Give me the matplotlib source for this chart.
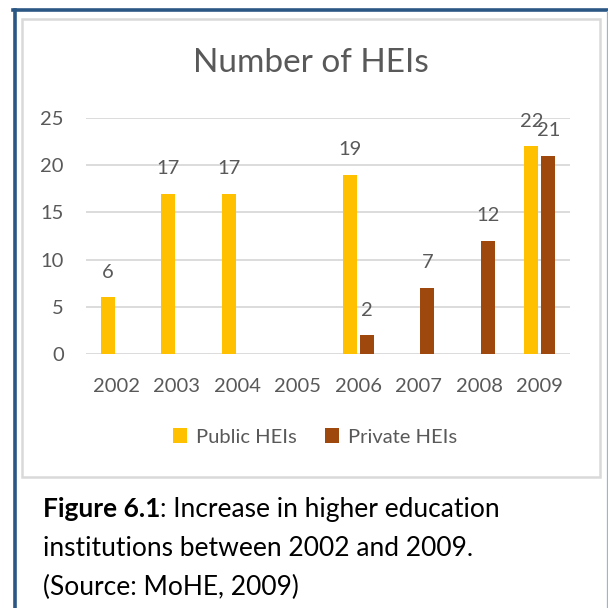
import matplotlib.pyplot as plt
from matplotlib.patches import Rectangle
from matplotlib.lines import Line2D

plt.rcParams['font.family'] = ['Lato', 'DejaVu Sans']

# Number of higher education institutions per year
years = ['2002', '2003', '2004', '2005', '2006', '2007', '2008', '2009']
public_heis = [6, 17, 17, 0, 19, 0, 0, 22]
private_heis = [0, 0, 0, 0, 2, 7, 12, 21]
series_names = ['Public HEIs', 'Private HEIs']

caption_head = 'Figure 6.1'
caption_lines = [': Increase in higher education',
                 'institutions between 2002 and 2009.',
                 '(Source: MoHE, 2009)']

public_color = '#FFC000'
private_color = '#9E480E'
text_gray = '#595959'
grid_gray = '#D9D9D9'

W = 608
fig = plt.figure(figsize=(6.08, 6.08), dpi=100)

def fx(px):
    return px / W

def fy(px):
    return 1 - px / W

# outer frame (blue) and chart area frame (light gray)
fig.add_artist(Line2D([fx(14.5), fx(14.5)], [fy(9.5), 0], color='#2B5784', lw=2.6))
fig.add_artist(Line2D([fx(13), 1], [fy(9.5), fy(9.5)], color='#2B5784', lw=2.6))
fig.add_artist(Line2D([fx(607), fx(607)], [fy(11), 0], color='#9DB3CE', lw=0.9))
fig.add_artist(Rectangle((fx(22), fy(477)), fx(600 - 22), (477 - 19) / W,
                         fill=False, edgecolor=grid_gray, lw=1.8))

ax = fig.add_axes([fx(86), fy(354), fx(570 - 86), (354 - 118) / W])
x = list(range(len(years)))
bw = 0.225
off = 0.14
pub_x = [i - off for i in x]
priv_x = [i + off for i in x]
ax.bar(pub_x, public_heis, width=bw, color=public_color, zorder=3, label=series_names[0])
ax.bar(priv_x, private_heis, width=bw, color=private_color, zorder=3, label=series_names[1])

# value labels only where there is a bar
for xs, vals in ((pub_x, public_heis), (priv_x, private_heis)):
    for xi, v in zip(xs, vals):
        if v > 0:
            ax.annotate(str(v), (xi, v), xytext=(0, 18), textcoords='offset points',
                        ha='center', va='center', fontsize=14.5, color=text_gray, zorder=4)

ax.set_xlim(-0.5, 7.5)
ax.set_ylim(0, 25)
ax.set_yticks([0, 5, 10, 15, 20, 25])
ax.set_xticks(x)
ax.set_xticklabels(years)
ax.yaxis.grid(True, color=grid_gray, lw=1.3, zorder=0)
for s in ax.spines.values():
    s.set_visible(False)
ax.tick_params(length=0, labelsize=14.5, colors=text_gray)
ax.tick_params(axis='y', pad=16)
ax.tick_params(axis='x', pad=17)
ax.set_facecolor('none')

fig.text(fx(311), fy(63), 'Number of HEIs', ha='center', va='center',
         fontsize=24, color=text_gray)

fig.legend(loc='center', bbox_to_anchor=(fx(315), fy(437)), ncol=2, frameon=False,
           fontsize=14.5, labelcolor=text_gray, handlelength=0.7, handleheight=0.7,
           handletextpad=0.45, columnspacing=1.4)

# caption under the chart: bold head, then the rest in regular weight
cap_size = 19
head = fig.text(fx(43), fy(517), caption_head, fontsize=cap_size, fontweight='bold',
                va='baseline', color='black')
renderer = fig.canvas.get_renderer()
bb = head.get_window_extent(renderer)
fig.text(bb.x1 / W, fy(517), caption_lines[0], fontsize=cap_size, va='baseline', color='black')
fig.text(fx(43), fy(556), caption_lines[1], fontsize=cap_size, va='baseline', color='black')
fig.text(fx(43), fy(595), caption_lines[2], fontsize=cap_size, va='baseline', color='black')

fig.savefig('out.png', dpi=100)
